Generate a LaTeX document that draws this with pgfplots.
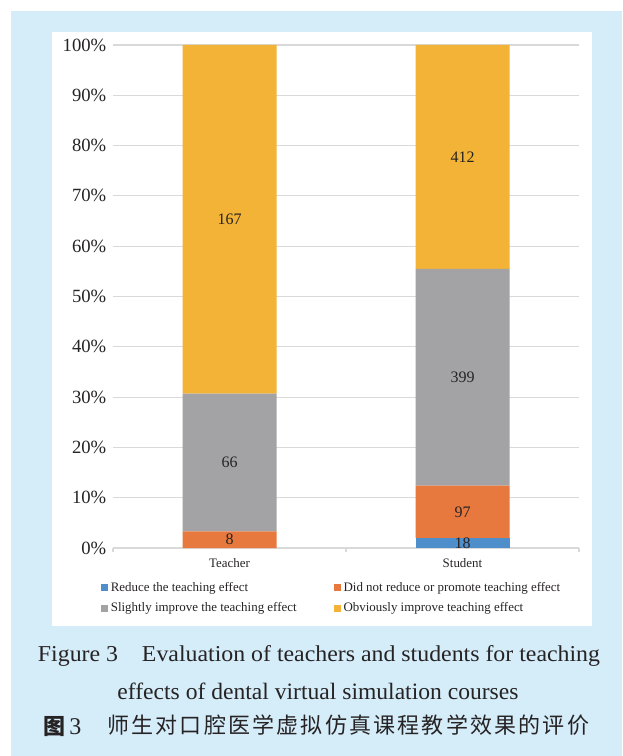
\documentclass[border=0pt]{standalone}
\usepackage{fontspec}
\setmainfont{Liberation Serif}
\newfontfamily\cjk{Noto Sans CJK SC}
\usepackage{graphicx}
\usepackage{pgfplots}
\pgfplotsset{compat=1.18}
\definecolor{cblue}{HTML}{4E8FCB}
\definecolor{corange}{HTML}{E7793F}
\definecolor{cgray}{HTML}{A3A3A5}
\definecolor{cgold}{HTML}{F3B336}
\definecolor{panel}{HTML}{D5ECF9}
\definecolor{gridc}{HTML}{D9D9D9}
\definecolor{txt}{HTML}{262324}
\pgfplotsset{sqleg/.style={legend image code/.code={\fill[##1,draw=none] (0pt,-2.6pt) rectangle (5.25pt,2.6pt);}}}

% percentages of each group (counts: Teacher 0,8,66,167; Student 18,97,399,412)
\pgfplotstableread{
x  reduce  neutral slight  obvious
0  0       3.3195  27.3859 69.2946
1  1.9438  10.4752 43.0886 44.4924
}\datatab

\begin{document}
\begin{tikzpicture}[x=0.75pt,y=-0.75pt]
\useasboundingbox (0,0) rectangle (622,756);
\fill[white] (0,0) rectangle (622,756);
\fill[panel] (11,11) rectangle (622,756);
\fill[white] (52,32) rectangle (592,626);

\begin{axis}[
  at={(84.75pt,-411pt)}, anchor=south west,
  scale only axis, width=349.5pt, height=377.25pt,
  ybar stacked, bar width=70.5pt,
  xmin=-0.5, xmax=1.5, ymin=0, ymax=100,
  axis x line*=bottom, axis y line*=left,
  y axis line style={draw=none},
  x axis line style={draw=gridc, line width=0.8pt},
  xtick={0,1}, xticklabels={Teacher,Student},
  minor xtick={-0.5,0.5,1.5},
  xtick align=outside,
  major tick length=0pt, minor tick length=3pt,
  minor tick style={draw=gridc, line width=0.8pt},
  ytick={0,10,...,100},
  yticklabels={0\%,10\%,20\%,30\%,40\%,50\%,60\%,70\%,80\%,90\%,100\%},
  yticklabel style={font=\fontsize{14}{16}\selectfont, text=txt, xshift=-1.5pt},
  xticklabel style={font=\fontsize{9.7}{11}\selectfont, text=txt, yshift=-4pt},
  ymajorgrids, grid style={draw=gridc, line width=0.8pt},
  legend columns=2,
  legend cell align=left,
  legend style={at={(axis description cs:-0.026,-0.062)}, anchor=north west,
    draw=none, fill=none, inner sep=0pt,
    font=\fontsize{9.7}{11}\selectfont, text=txt,
    row sep=3pt,
    /tikz/every even column/.append style={column sep=26pt}},
]
\addplot[fill=cblue, draw=none, sqleg] table[x=x, y=reduce] {\datatab};
\addlegendentry{Reduce the teaching effect}
\addplot[fill=corange, draw=none, sqleg] table[x=x, y=neutral] {\datatab};
\addlegendentry{Did not reduce or promote teaching effect}
\addplot[fill=cgray, draw=none, sqleg] table[x=x, y=slight] {\datatab};
\addlegendentry{Slightly improve the teaching effect}
\addplot[fill=cgold, draw=none, sqleg] table[x=x, y=obvious] {\datatab};
\addlegendentry{Obviously improve teaching effect}
\end{axis}

\begin{axis}[
  at={(84.75pt,-411pt)}, anchor=south west,
  scale only axis, width=349.5pt, height=377.25pt,
  xmin=-0.5, xmax=1.5, ymin=0, ymax=100, hide axis]
\addplot[draw=none, mark=none, nodes near coords, point meta=explicit symbolic,
  every node near coord/.append style={anchor=center, font=\fontsize{12}{14}\selectfont, text=txt}]
  table[meta=lab] {
x y lab
0 1.66 8
0 17.01 66
0 65.35 167
1 0.97 18
1 7.18 97
1 33.96 399
1 77.75 412
};
\end{axis}

\node[anchor=base, text=txt, inner sep=0pt] at (319,661)
  {\resizebox{421.5pt}{12pt}{Figure 3\hspace{1.0em}Evaluation of teachers and students for teaching}};
\node[anchor=base, text=txt, inner sep=0pt] at (318,699)
  {\resizebox{300.75pt}{12.4pt}{effects of dental virtual simulation courses}};
\node[anchor=base west, text=txt, inner sep=0pt] at (43,734)
  {\fontsize{16.5}{18}\selectfont{\cjk\bfseries 图}\fontsize{18}{20}\selectfont\,3};
\node[anchor=base west, text=txt, inner sep=0pt] at (107,733)
  {\fontsize{16.5}{18}\selectfont\cjk\addfontfeature{LetterSpace=10}师生对口腔医学虚拟仿真课程教学效果的评价};
\end{tikzpicture}
\end{document}
